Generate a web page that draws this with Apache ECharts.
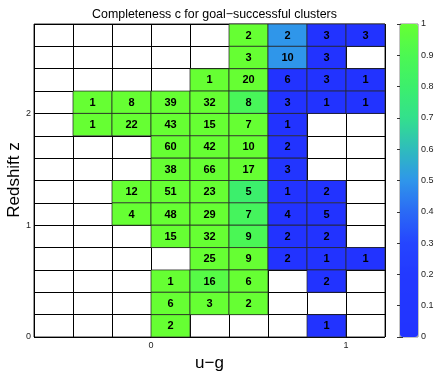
<!DOCTYPE html>
<html>
<head>
<meta charset="utf-8">
<script src="https://cdn.jsdelivr.net/npm/echarts@6/dist/echarts.min.js"></script>
<style>html,body{margin:0;padding:0;background:#fff}#c{width:436px;height:371px}</style>
</head>
<body>
<div id="c"></div>
<script>
// u-g bin lower edges (bin width 0.2)
const ugBins = [-0.6, -0.4, -0.2, 0.0, 0.2, 0.4, 0.6, 0.8, 1.0];
// redshift bin lower edges (bin height 0.2), top row first
const zBins = [2.6, 2.4, 2.2, 2.0, 1.8, 1.6, 1.4, 1.2, 1.0, 0.8, 0.6, 0.4, 0.2, 0.0];
const binW = 0.2, binH = 0.2;
// number of clusters per cell (null = empty)
const counts = [
  [null,null,null,null,null,2,2,3,3],
  [null,null,null,null,null,3,10,3,null],
  [null,null,null,null,1,20,6,3,1],
  [null,1,8,39,32,8,3,1,1],
  [null,1,22,43,15,7,1,null,null],
  [null,null,null,60,42,10,2,null,null],
  [null,null,null,38,66,17,3,null,null],
  [null,null,12,51,23,5,1,2,null],
  [null,null,4,48,29,7,4,5,null],
  [null,null,null,15,32,9,2,2,null],
  [null,null,null,null,25,9,2,1,1],
  [null,null,null,1,16,6,null,2,null],
  [null,null,null,6,3,2,null,null,null],
  [null,null,null,2,null,null,null,1,null]
];
// completeness c per cell
const completeness = [
  [null,null,null,null,null,1,0.5,0,0],
  [null,null,null,null,null,1,0.5,0,null],
  [null,null,null,null,1,1,0,0,0],
  [null,1,1,1,1,0.875,0,0,0],
  [null,1,1,1,1,1,0,null,null],
  [null,null,null,1,1,1,0,null,null],
  [null,null,null,1,1,1,0.05,null,null],
  [null,null,1,1,1,0.8,0,0,null],
  [null,null,1,1,1,0.857,0,0,null],
  [null,null,null,1,1,0.889,0,0,null],
  [null,null,null,null,1,1,0,0,0],
  [null,null,null,1,0.9375,1,null,0,null],
  [null,null,null,1,1,1,null,null,null],
  [null,null,null,1,null,null,null,0,null]
];
const cbTicks = [0,0.1,0.2,0.3,0.4,0.5,0.6,0.7,0.8,0.9,1];
const cmap = ['#2233ff','#2236ff','#2339ff','#2545ff','#2a6af5','#2f96ea','#2fbcbc','#33e08c','#3cef6c','#4cf852','#66ff33'];

const cells = [];
zBins.forEach((z, r) => {
  ugBins.forEach((u, c) => {
    if (counts[r][c] !== null) cells.push([u, z, completeness[r][c], counts[r][c]]);
  });
});

const FONT = '"Liberation Sans", Arial, Helvetica, sans-serif';
const chart = echarts.init(document.getElementById('c'), null, {renderer: 'canvas'});
chart.setOption({
  animation: false,
  title: {
    text: 'Completeness c for goal\u2212successful clusters',
    left: 209.5, top: 4, textAlign: 'center',
    textStyle: {fontFamily: FONT, fontSize: 12.4, fontWeight: 'normal', color: '#000'}
  },
  graphic: [
    {type: 'text', x: 14.5, y: 180, rotation: Math.PI / 2,
     style: {text: 'Redshift z', align: 'center', verticalAlign: 'middle', font: '17px ' + FONT, fill: '#000'}}
  ],
  grid: [
    {left: 34, right: 51, top: 24, bottom: 34, show: true, borderColor: '#333', borderWidth: 1,
     backgroundColor: 'transparent', containLabel: false, outerBoundsMode: 'none'},
    {left: 400, width: 18, top: 24, height: 313, show: true, borderColor: '#888', borderWidth: 1,
     backgroundColor: 'transparent', containLabel: false, outerBoundsMode: 'none'}
  ],
  xAxis: [
    {
      type: 'value', gridIndex: 0, min: -0.6, max: 1.2, interval: 0.2,
      name: 'u\u2212g', nameLocation: 'middle', nameGap: 14,
      nameTextStyle: {fontFamily: FONT, fontSize: 17, color: '#000'},
      axisLine: {show: false}, axisTick: {show: false},
      splitLine: {show: true, lineStyle: {color: '#000', width: 1}},
      axisLabel: {fontFamily: FONT, fontSize: 9, color: '#222', margin: 4,
        formatter: v => Math.abs(v) < 1e-6 ? '0' : (Math.abs(v - 1) < 1e-6 ? '1' : '')}
    },
    {type: 'value', gridIndex: 1, min: 0, max: 1, show: false}
  ],
  yAxis: [
    {
      type: 'value', gridIndex: 0, min: 0, max: 2.8, interval: 0.2,
      axisLine: {show: false}, axisTick: {show: false},
      splitLine: {show: true, lineStyle: {color: '#000', width: 1}},
      axisLabel: {fontFamily: FONT, fontSize: 9, color: '#222', margin: 3,
        formatter: v => Math.abs(v) < 1e-6 ? '0' : (Math.abs(v - 1) < 1e-6 ? '1' : (Math.abs(v - 2) < 1e-6 ? '2' : ''))}
    },
    {
      type: 'value', gridIndex: 1, min: 0, max: 1, interval: 0.1, position: 'right',
      axisLine: {show: false}, splitLine: {show: false},
      axisTick: {show: true, inside: true, length: 3, lineStyle: {color: '#333'}},
      axisLabel: {fontFamily: FONT, fontSize: 9, color: '#222', margin: 3,
        formatter: v => cbTicks.find(t => Math.abs(t - v) < 1e-6) === undefined ? '' : String(Math.round(v * 10) / 10)}
    },
    {
      type: 'value', gridIndex: 1, min: 0, max: 1, interval: 0.1, position: 'left',
      axisLine: {show: false}, splitLine: {show: false}, axisLabel: {show: false},
      axisTick: {show: true, inside: true, length: 3, lineStyle: {color: '#333'}}
    }
  ],
  visualMap: {
    type: 'continuous', min: 0, max: 1, dimension: 2, seriesIndex: 0,
    inRange: {color: cmap},
    left: 400, top: 24, itemWidth: 18, itemHeight: 313, padding: 0,
    calculable: false, text: null, show: true, hoverLink: false
  },
  series: [
    {
      type: 'custom', xAxisIndex: 0, yAxisIndex: 0,
      encode: {x: 0, y: 1},
      data: cells,
      z: 5,
      renderItem: function (params, api) {
        const x0 = api.value(0), y0 = api.value(1);
        const p0 = api.coord([x0, y0]);
        const p1 = api.coord([x0 + binW, y0 + binH]);
        return {
          type: 'group',
          children: [
            {type: 'rect', shape: {x: p0[0], y: p1[1], width: p1[0] - p0[0], height: p0[1] - p1[1]},
             style: {fill: api.visual('color'), stroke: 'rgba(40,40,40,0.75)', lineWidth: 1}},
            {type: 'text', style: {text: String(api.value(3)), x: (p0[0] + p1[0]) / 2, y: (p0[1] + p1[1]) / 2 + 0.5,
             align: 'center', verticalAlign: 'middle', font: 'bold 11px ' + FONT, fill: '#000'}}
          ]
        };
      }
    }
  ]
});
</script>
</body>
</html>
